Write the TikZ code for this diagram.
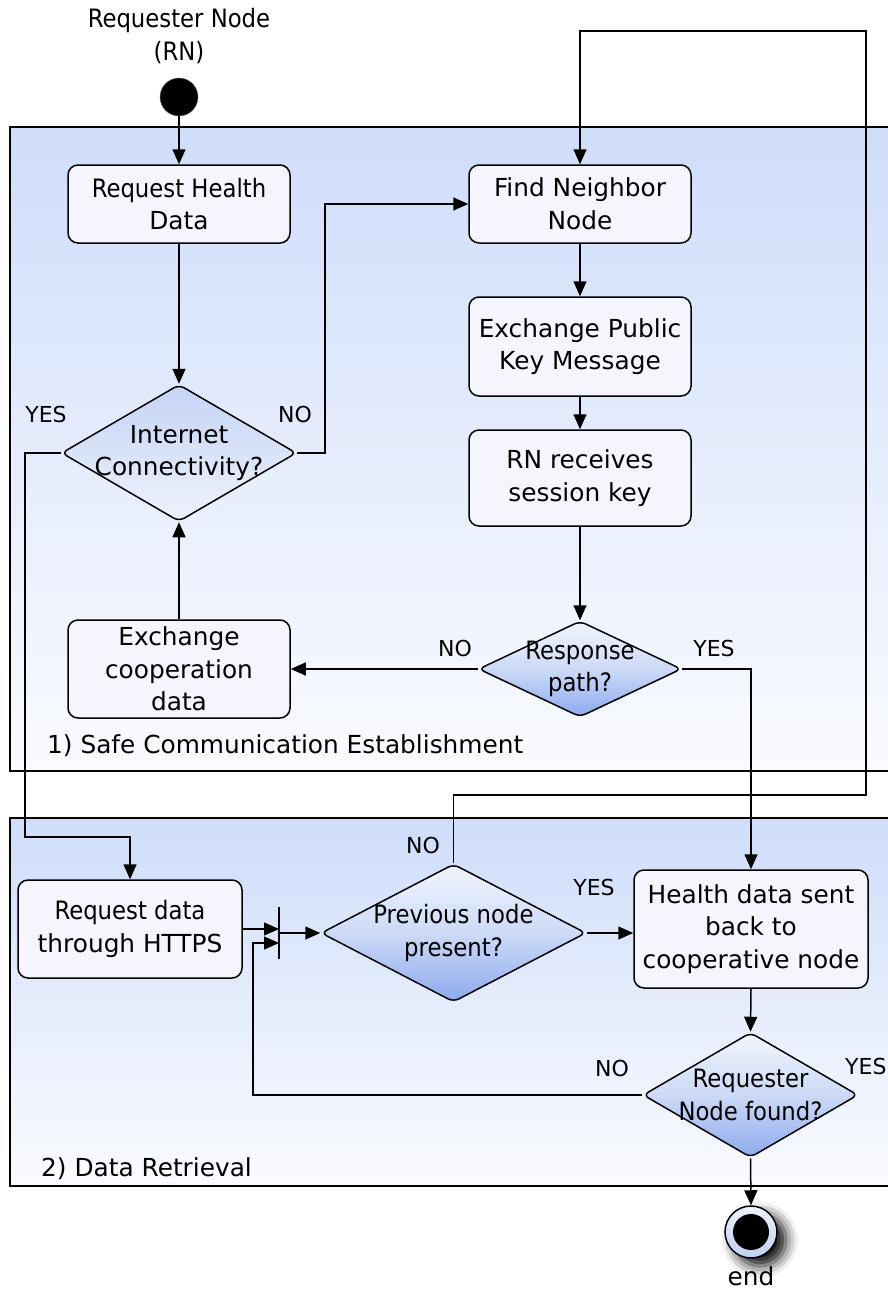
\documentclass[tikz,border=0pt]{standalone}
\usepackage{fontspec}
\setmainfont{DejaVu Sans}
\newfontfamily\condfont{DejaVu Sans Condensed}
\usetikzlibrary{shapes.geometric,arrows.meta,shadows.blur}

\definecolor{panetop}{HTML}{CFDDFA}
\definecolor{panebot}{HTML}{FAFBFF}
\definecolor{boxfill}{HTML}{F4F5FD}
\definecolor{dectop}{HTML}{F2F6FE}
\definecolor{decmid}{HTML}{CCDAF7}
\definecolor{decbot}{HTML}{8DAAEE}
\definecolor{inettop}{HTML}{C4D4F5}
\definecolor{inetbot}{HTML}{EEF2FC}
\definecolor{endtop}{HTML}{EEF2FC}
\definecolor{endbot}{HTML}{BFD0F2}

\newcommand\lblsize{\fontsize{24.8}{32.5}\selectfont}
\newcommand\condsize{\fontsize{25.3}{32.5}\selectfont}
\newcommand\tagsize{\fontsize{22}{30}\selectfont}

\tikzset{
  line/.style={line width=1.5pt, draw=black},
  arr/.style={line, -{Triangle[length=15pt,width=13pt]}},
  act/.style={draw, line width=1.5pt, rounded corners=10pt, fill=boxfill,
              align=center, font=\lblsize, inner sep=0pt},
  dec/.style={diamond, draw, line width=1.5pt, rounded corners=6pt,
              top color=dectop, bottom color=decbot, middle color=decmid,
              inner sep=0pt},
  dectext/.style={align=center, font=\condfont\condsize, inner sep=0pt},
  pane/.style={draw, line width=1.5pt, top color=panetop, bottom color=panebot},
  tag/.style={font=\tagsize, inner sep=0pt},
  junction/.style={inner sep=0pt, minimum width=0pt, minimum height=51pt},
}

\begin{document}
\begin{tikzpicture}[x=1pt, y=-1pt]
\useasboundingbox (0,0) rectangle (887,1290);

% swimlane panels
\path[pane] (10,127) rectangle (895,771);
\path[pane] (10,818) rectangle (895,1186);
\node[font=\lblsize, anchor=base west, inner sep=0pt] (lane1) at (47,753)
  {1) Safe Communication Establishment};
\node[font=\lblsize, anchor=base west, inner sep=0pt] (lane2) at (41,1176)
  {2) Data Retrieval};

% initial node
\node[font=\condfont\condsize, align=center, inner sep=0pt] (rnlabel) at (179,36)
  {Requester Node\\(RN)};
\node[circle, fill=black, draw=black!60, minimum size=38pt, inner sep=0pt]
  (start) at (179,97) {};

% actions, phase 1
\node[act, minimum width=222pt, minimum height=78pt] (rhd) at (179,204)
  {{\condfont\condsize Request Health}\\Data};
\node[act, minimum width=222pt, minimum height=78pt] (find) at (580,204)
  {Find Neighbor\\Node};
\node[act, minimum width=222pt, minimum height=99pt] (pub) at (580,346.5)
  {Exchange Public\\Key Message};
\node[act, minimum width=222pt, minimum height=96pt] (rnk) at (580,478)
  {RN receives\\session key};
\node[act, minimum width=222pt, minimum height=98pt] (coop) at (179,669)
  {Exchange\\cooperation\\data};

% decisions, phase 1
\node[dec, top color=inettop, bottom color=inetbot, middle color=inettop!50!inetbot,
      minimum width=235pt, minimum height=137pt] (inet) at (179,453) {};
\node[dectext, font=\lblsize] (inet-t) at (inet) {Internet\\Connectivity?};
\node[dec, minimum width=203pt, minimum height=96pt] (resp) at (580,669) {};
\node[dectext] (resp-t) at (resp) {Response\\path?};

% actions, phase 2
\node[act, minimum width=224pt, minimum height=98pt] (https) at (130,929)
  {{\condfont\condsize Request data}\\through HTTPS};
\node[act, minimum width=234pt, minimum height=118pt] (hds) at (751,929)
  {Health data sent\\back to\\cooperative node};

% decisions, phase 2
\node[dec, minimum width=265pt, minimum height=138pt] (prev) at (453.5,933) {};
\node[dectext] (prev-t) at (prev) {Previous node\\present?};
\node[dec, minimum width=215pt, minimum height=125pt] (rnf) at (750.5,1095) {};
\node[dectext] (rnf-t) at (rnf) {Requester\\Node found?};

% merge bar
\node[junction] (bar) at (279,933) {};
\draw[line] (bar.north) -- (bar.south);

% final node
\node[circle, draw, line width=1.5pt, minimum size=52pt, inner sep=0pt,
      top color=endtop, bottom color=endbot,
      blur shadow={shadow xshift=9pt, shadow yshift=-8pt, shadow blur radius=12pt, shadow opacity=95}]
  (endo) at (751,1232) {};
\node[circle, fill=black, minimum size=36pt, inner sep=0pt] (endi) at (endo) {};
\node[font=\lblsize, inner sep=0pt] (endlabel) at (751,1276) {end};

% routing points
\coordinate (inetno) at (325,453);
\coordinate (inetyes) at (25,837);
\coordinate (loopa) at (866,795);
\coordinate (loopb) at (866,31);
\coordinate (back) at (253,943);

% flows
\draw[arr] (start) -- (rhd.north);
\draw[arr] (rhd.south) -- (inet.north);
\draw[arr] (coop.north) -- (inet.south);
\draw[arr] (inet.east) -- (inetno) |- (find.west);
\draw[arr] (inet.west) -| (inetyes) -| (https.north);
\draw[arr] (find.south) -- (pub.north);
\draw[arr] (pub.south) -- (rnk.north);
\draw[arr] (rnk.south) -- (resp.north);
\draw[arr] (resp.west) -- (coop.east);
\draw[arr] (resp.east) -| (hds.north);
\draw[arr] (prev.north) |- (loopa) -- (loopb) -| (find.north);
\draw[arr] (prev.east) -- (prev.east -| hds.west);
\draw[arr] (https.east) -- (https.east -| bar);
\draw[arr] (bar) -- (prev.west);
\draw[arr] (rnf.west) -| (back) -- (back -| bar);
\draw[arr] (hds.south) -- (rnf.north);
\draw[arr] (rnf.south) -- (endo.north);

% guard labels
\node[tag] (g1) at (46,414) {YES};
\node[tag] (g2) at (295,414) {NO};
\node[tag] (g3) at (455,648) {NO};
\node[tag] (g4) at (714,648) {YES};
\node[tag] (g5) at (423,845) {NO};
\node[tag] (g6) at (594,887) {YES};
\node[tag] (g7) at (612,1068) {NO};
\node[tag, anchor=west] (g8) at (845,1066) {YES};
\end{tikzpicture}
\end{document}
